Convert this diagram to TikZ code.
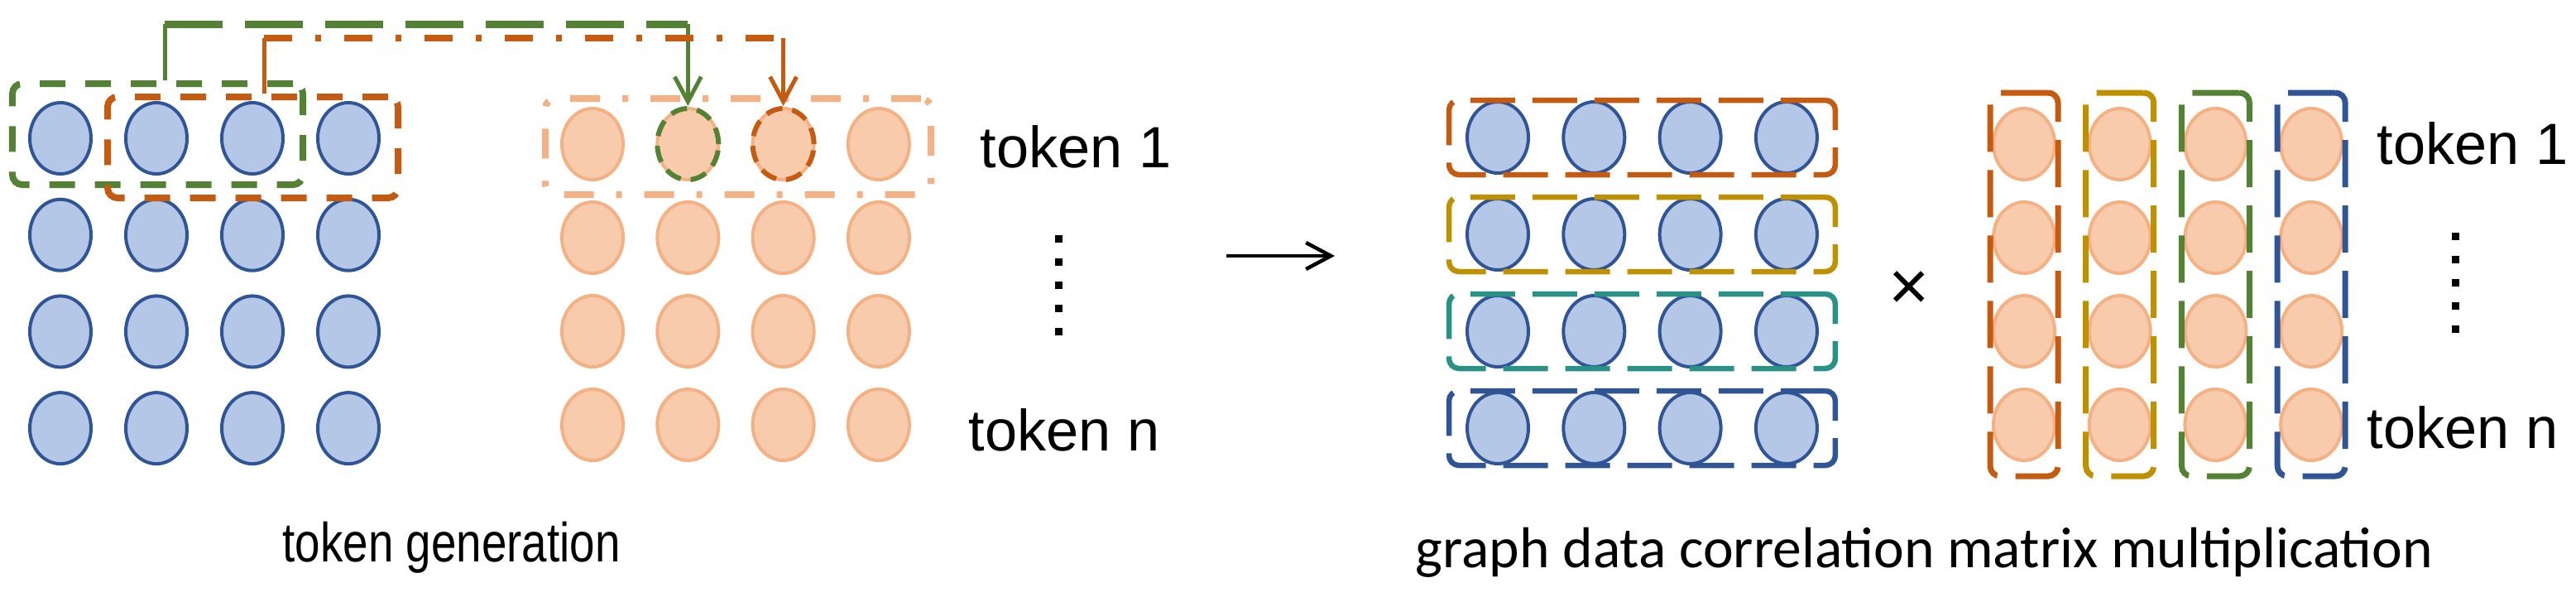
\documentclass[tikz,border=0pt]{standalone}
\usepackage{fontspec}
\setmainfont{Liberation Sans}
\newfontfamily\narrowfont[FakeStretch=0.82]{Liberation Sans}
\newfontfamily\captionfont{Carlito}
\usepackage{tikz}
\usetikzlibrary{arrows.meta, positioning, fit, calc, shapes.geometric}
\definecolor{myblue}{HTML}{2F5597}
\definecolor{mybluefill}{HTML}{B4C7E7}
\definecolor{myorange}{HTML}{C55A11}
\definecolor{mypeach}{HTML}{F4B183}
\definecolor{mypeachfill}{HTML}{F8CBAD}
\definecolor{mygreen}{HTML}{548235}
\definecolor{mygold}{HTML}{BF9000}
\definecolor{myteal}{HTML}{2A9187}
\tikzset{
blueball/.style={
ellipse,
draw=myblue,
fill=mybluefill,
line width=0.04cm,
minimum width=0.74cm,
minimum height=0.86cm,
inner sep=0pt
},
peachball/.style={
ellipse,
draw=mypeach,
fill=mypeachfill,
line width=0.04cm,
minimum width=0.74cm,
minimum height=0.86cm,
inner sep=0pt
},
pickring/.style={
ellipse,
line width=0.06cm,
dash pattern=on 0.2cm off 0.12cm,
minimum width=0.74cm,
minimum height=0.86cm,
inner sep=0pt
},
windowbox/.style={
rectangle,
rounded corners=0.12cm,
line width=0.08cm,
dash pattern=on 0.31cm off 0.24cm,
inner sep=0pt
},
tokenbox/.style={
rectangle,
draw=mypeach,
rounded corners=0.12cm,
line width=0.08cm,
dash pattern=on 0.36cm off 0.27cm on 0.07cm off 0.27cm,
inner sep=0pt
},
rowbox/.style={
rectangle,
rounded corners=0.12cm,
line width=0.065cm,
dash pattern=on 0.54cm off 0.21cm,
inner xsep=0.2cm,
inner ysep=0pt
},
colbox/.style={
rectangle,
rounded corners=0.12cm,
line width=0.07cm,
dash pattern=on 0.57cm off 0.22cm,
inner xsep=0.02cm,
inner ysep=0.17cm
},
dotmark/.style={
rectangle,
fill=black,
minimum size=0.09cm,
inner sep=0pt
},
tokenlabel/.style={
font=\fontsize{20}{24}\selectfont,
inner sep=0pt,
anchor=base west
}
}

\begin{document}
\begin{tikzpicture}[
>=Latex,
font=\fontsize{20}{24}\selectfont
]

\tikzset{
  linkup/.style={
    line width=0.05cm
  },
  linkdown/.style={
    -{Straight Barb[length=0.3cm,width=0.32cm]},
    line width=0.05cm
  },
  greenbridge/.style={
    draw=mygreen,
    line width=0.09cm,
    dash pattern=on 0.7cm off 0.27cm
  },
  orangebridge/.style={
    draw=myorange,
    line width=0.08cm,
    dash pattern=on 0.34cm off 0.28cm on 0.07cm off 0.28cm
  },
  bigarrow/.style={
    -{Straight Barb[length=0.3cm,width=0.32cm]},
    line width=0.045cm,
    draw=black
  }
}

\useasboundingbox (0,0) rectangle (31.13,-7.26);

\foreach \r in {1,...,4}
  \foreach \c in {1,...,4} {
    \node[blueball] (lb-\r-\c) at ({0.73+1.16*(\c-1)},{-1.67-1.167*(\r-1)}) {};
    \node[peachball] (lp-\r-\c) at ({7.16+1.153*(\c-1)},{-1.74-1.13*(\r-1)}) {};
    \node[blueball] (rb-\r-\c) at ({18.10+1.163*(\c-1)},{-1.66-1.17*(\r-1)}) {};
    \node[peachball] (rp-\r-\c) at ({24.46+1.157*(\c-1)},{-1.74-1.13*(\r-1)}) {};
  }

\node[windowbox, draw=mygreen, fit={(0.15,-1.01) (3.66,-2.23)}] (greenwin) {};
\node[windowbox, draw=myorange, fit={(1.30,-1.17) (4.81,-2.39)}] (orangewin) {};
\node[tokenbox, fit={(6.59,-1.19) (11.25,-2.35)}] (tokenwin) {};

\node[pickring, draw=mygreen] (pickg) at (lp-1-2) {};
\node[pickring, draw=myorange] (picko) at (lp-1-3) {};

\coordinate (greenhop) at (1.99,-0.29);
\coordinate (orangehop) at (3.19,-0.46);

\draw[linkup, draw=mygreen] (greenwin.north -| greenhop) -- (greenhop);
\draw[greenbridge] (greenhop) -- (greenhop -| pickg.north);
\draw[linkdown, draw=mygreen] (greenhop -| pickg.north) -- (pickg.north);

\draw[linkup, draw=myorange] (orangewin.north -| orangehop) -- (orangehop);
\draw[orangebridge] (orangehop) -- (orangehop -| picko.north);
\draw[linkdown, draw=myorange] (orangehop -| picko.north) -- (picko.north);

\foreach \r/\col in {1/myorange, 2/mygold, 3/myteal, 4/myblue}
  \node[rowbox, draw=\col, fit=(rb-\r-1)(rb-\r-4)] (row-\r) {};
\foreach \c/\col in {1/myorange, 2/mygold, 3/mygreen, 4/myblue}
  \node[colbox, draw=\col, fit=(rp-1-\c)(rp-4-\c)] (col-\c) {};

\foreach \k in {0,...,4} {
  \node[dotmark] (ldot-\k) at (12.79,{-2.88-0.28*\k}) {};
  \node[dotmark] (rdot-\k) at (29.67,{-2.85-0.28*\k}) {};
}

\node[tokenlabel] (ltok1) at (11.84,-2.02) {token 1};
\node[tokenlabel] (ltokn) at (11.70,-5.44) {token n};
\node[tokenlabel] (rtok1) at (28.72,-1.98) {token 1};
\node[tokenlabel] (rtokn) at (28.60,-5.41) {token n};
\node[tokenlabel, font=\narrowfont\fontsize{19}{23}\selectfont] (genlabel) at (3.41,-6.78) {token generation};
\node[tokenlabel, font=\captionfont\fontsize{19.8}{23}\selectfont] (mullabel) at (17.10,-6.85) {graph data correlation matrix multiplication};
\node[inner sep=0pt, font=\fontsize{24}{26}\selectfont] (times) at (23.07,-3.51) {×};

\coordinate (gostart) at (14.82,-3.09);
\coordinate (goend) at (16.13,-3.09);
\draw[bigarrow] (gostart) -- (goend);

\end{tikzpicture}
\end{document}
